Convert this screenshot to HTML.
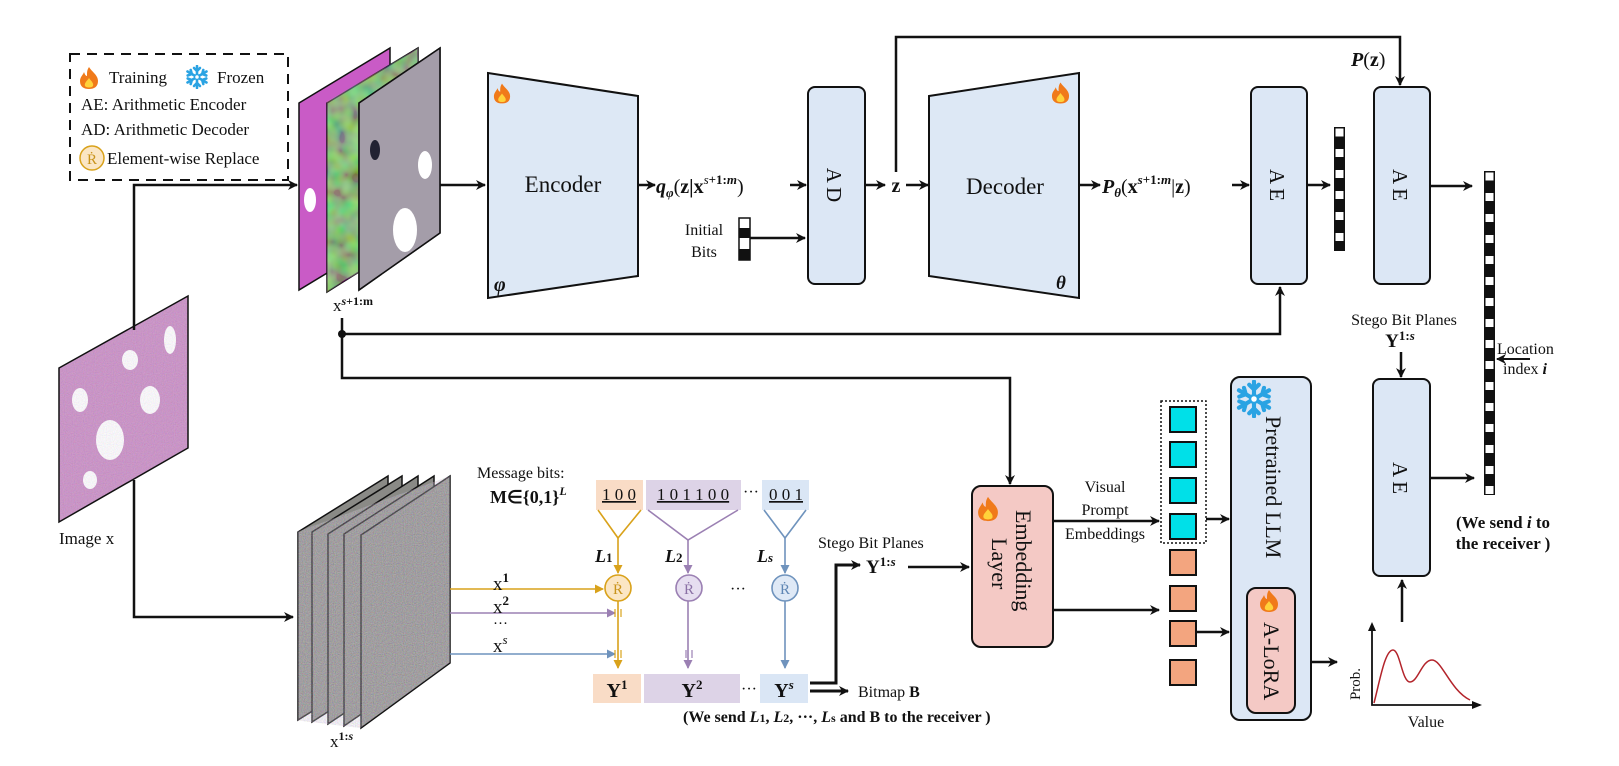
<!DOCTYPE html>
<html><head><meta charset="utf-8"><style>
html,body{margin:0;padding:0;background:#fff}
svg{display:block}
text{font-family:"Liberation Serif",serif;fill:#111}
</style></head><body>
<svg width="1619" height="766" viewBox="0 0 1619 766" xmlns="http://www.w3.org/2000/svg">
<defs>
<marker id="ah" markerWidth="10" markerHeight="10" refX="9" refY="5" orient="auto" markerUnits="userSpaceOnUse"><path d="M0,0 L10,5 L0,10 L3,5 z" fill="#111"/></marker>
<marker id="ahO" markerWidth="9" markerHeight="9" refX="8" refY="4.5" orient="auto" markerUnits="userSpaceOnUse"><path d="M0,0 L9,4.5 L0,9 z" fill="#d9a21b"/></marker>
<marker id="ahP" markerWidth="9" markerHeight="9" refX="8" refY="4.5" orient="auto" markerUnits="userSpaceOnUse"><path d="M0,0 L9,4.5 L0,9 z" fill="#9b80b3"/></marker>
<marker id="ahB" markerWidth="9" markerHeight="9" refX="8" refY="4.5" orient="auto" markerUnits="userSpaceOnUse"><path d="M0,0 L9,4.5 L0,9 z" fill="#6f93bd"/></marker>
<symbol id="fire" viewBox="0 0 20 24"><path d="M10,1 C13,6 19,9 19,15 C19,21 15,23 10,23 C5,23 1,21 1,15 C1,11 4,9 5,6 C6,9 7,10 8,10 C8,6 8,4 10,1z" fill="#f07a1a"/><path d="M10,12 C12,15 15,17 14,20 C13,22 7,22 6,20 C5,17 8,15 10,12z" fill="#ffd23a"/></symbol>
<symbol id="snow" viewBox="-12 -12 24 24"><g stroke="#2aa3e3" stroke-width="2.6" stroke-linecap="round" fill="none"><path d="M0,-11V11M-9.5,-5.5L9.5,5.5M-9.5,5.5L9.5,-5.5"/><path d="M-3,-9L0,-6L3,-9M-3,9L0,6L3,9M-9.3,-1.5L-5.2,-3L-6.3,-7M9.3,1.5L5.2,3L6.3,7M-9.3,1.5L-5.2,3L-6.3,7M9.3,-1.5L5.2,-3L6.3,-7"/></g><circle r="2.5" fill="#fff" stroke="#2aa3e3" stroke-width="1.5"/></symbol>
<filter id="noise" x="0" y="0" width="100%" height="100%"><feTurbulence type="fractalNoise" baseFrequency="0.9" numOctaves="1" seed="3"/><feColorMatrix type="matrix" values="1.4 0 0 0 -0.1  0 1.3 0 0 -0.1  0 0 1.5 0 -0.1  0 0 0 0 1"/></filter>
<filter id="blob" x="0" y="0" width="100%" height="100%"><feTurbulence type="fractalNoise" baseFrequency="0.06" numOctaves="2" seed="7"/><feColorMatrix type="matrix" values="2 0 0 0 -0.3  0 2 0 0 -0.5  0 0 2 0 -0.3  0 0 0 0 1"/></filter>
<clipPath id="cx"><polygon points="59,368 188,296 188,448 59,522"/></clipPath>
</defs>

<!-- legend -->
<rect x="70" y="54" width="218" height="126" fill="none" stroke="#111" stroke-width="2" stroke-dasharray="10,7"/>
<use href="#fire" x="79" y="66" width="20" height="24"/>
<text x="109" y="83" font-size="17">Training</text>
<use href="#snow" x="185" y="65" width="24" height="24"/>
<text x="217" y="83" font-size="17">Frozen</text>
<text x="81" y="110" font-size="17">AE: Arithmetic Encoder</text>
<text x="81" y="135" font-size="17">AD: Arithmetic Decoder</text>
<circle cx="92" cy="158" r="12" fill="#fbe6c4" stroke="#d9a21b" stroke-width="1.5"/>
<text x="92" y="164" font-size="15" text-anchor="middle" style="fill:#c9931b">Ṙ</text>
<text x="107" y="164" font-size="17">Element-wise Replace</text>

<!-- top stack -->
<g stroke="#111" stroke-width="1.5">
<polygon points="299,103 390,48 390,235 299,290" fill="#c95bc6"/>
<polygon points="327,103 418,48 418,235 327,292" fill="#5fbf48"/>
<rect x="327" y="48" width="91" height="244" filter="url(#blob)" opacity="0.35" stroke="none" clip-path="polygon(0 22%,100% 0,100% 77%,0 100%)"/>
<polygon points="359,103 440,48 440,233 359,290" fill="#8f9a8f"/>
</g>
<g opacity="0.55"><polygon points="359,103 440,48 440,233 359,290" fill="#b7a0c0"/></g>
<ellipse cx="405" cy="230" rx="12" ry="22" fill="#fff"/><ellipse cx="425" cy="165" rx="7" ry="14" fill="#fff"/><ellipse cx="375" cy="150" rx="5" ry="10" fill="#223"/><ellipse cx="310" cy="200" rx="6" ry="12" fill="#fff"/>
<polygon points="359,103 440,48 440,233 359,290" fill="none" stroke="#111" stroke-width="1.5"/>
<text x="333" y="311" font-size="17">x<tspan font-size="12" dy="-6" font-weight="bold" font-style="italic">s</tspan><tspan font-size="12" font-weight="bold">+1:m</tspan></text>

<!-- image x -->
<polygon points="59,368 188,296 188,448 59,522" fill="#c98cc4"/>
<g clip-path="url(#cx)" fill="#fff"><ellipse cx="110" cy="440" rx="14" ry="20"/><ellipse cx="150" cy="400" rx="10" ry="14"/><ellipse cx="80" cy="400" rx="8" ry="12"/><ellipse cx="170" cy="340" rx="6" ry="14"/><ellipse cx="130" cy="360" rx="8" ry="10"/><ellipse cx="90" cy="480" rx="7" ry="9"/></g>
<g clip-path="url(#cx)" fill="#5a3f8c" opacity="0.6"><rect x="59" y="296" width="129" height="226" filter="url(#noise)" opacity="0.3"/></g>
<polygon points="59,368 188,296 188,448 59,522" fill="none" stroke="#111" stroke-width="1.5"/>
<text x="59" y="544" font-size="17">Image x</text>

<!-- bottom stack -->
<g stroke="#111" stroke-width="1.5">
<polygon points="298,532 388,476 388,664 298,720" fill="#8a8a86"/>
<polygon points="312,532 402,476 402,664 312,722" fill="#8a8a86"/>
<polygon points="328,534 418,476 418,664 328,724" fill="#8a8a86"/>
<polygon points="344,534 434,476 434,664 344,726" fill="#8a8a86"/>
<polygon points="361,535 450,476 450,663 361,728" fill="#8a8a86"/>
</g>
<rect x="298" y="476" width="152" height="252" filter="url(#noise)" opacity="0.35" clip-path="polygon(0 22%,100% 0,100% 74%,41% 100%,0 97%)"/>
<text x="330" y="747" font-size="17">x<tspan font-size="12" dy="-7" font-weight="bold">1:</tspan><tspan font-size="12" font-style="italic" font-weight="bold">s</tspan></text>

<!-- image x connectors -->
<g fill="none" stroke="#111" stroke-width="2.5">
<polyline points="134,330 134,185 297,185" marker-end="url(#ah)"/>
<polyline points="134,480 134,617 293,617" marker-end="url(#ah)"/>
<line x1="440" y1="185" x2="485" y2="185" marker-end="url(#ah)"/>
<polyline points="342,318 342,378 1010,378 1010,484" marker-end="url(#ah)"/>
<polyline points="342,334 1280,334 1280,287" marker-end="url(#ah)"/>
</g>
<circle cx="342" cy="334" r="4" fill="#111"/>

<!-- encoder -->
<polygon points="488,73 638,96 638,276 488,298" fill="#dde8f5" stroke="#111" stroke-width="2"/>
<use href="#fire" x="493" y="82" width="18" height="23"/>
<text x="563" y="192" font-size="23" text-anchor="middle">Encoder</text>
<text x="494" y="291" font-size="20" font-weight="bold" font-style="italic">φ</text>
<line x1="638" y1="185" x2="655" y2="185" stroke="#111" stroke-width="2.5" marker-end="url(#ah)"/>
<text x="656" y="193" font-size="20" font-weight="bold"><tspan font-style="italic">q</tspan><tspan font-size="13" dy="4" font-style="italic">φ</tspan><tspan dy="-4" font-weight="normal">(</tspan>z|x<tspan font-size="13" dy="-9" font-weight="normal" font-style="italic">s</tspan><tspan font-size="13">+1:</tspan><tspan font-size="13" font-style="italic">m</tspan><tspan dy="9" font-weight="normal">)</tspan></text>
<line x1="790" y1="185" x2="806" y2="185" stroke="#111" stroke-width="2.5" marker-end="url(#ah)"/>
<text x="704" y="235" font-size="16" text-anchor="middle">Initial</text>
<text x="704" y="257" font-size="16" text-anchor="middle">Bits</text>
<rect x="739" y="218" width="11" height="42" fill="#fff" stroke="#111" stroke-width="1.5"/>
<rect x="739" y="228" width="11" height="10" fill="#111"/><rect x="739" y="249" width="11" height="11" fill="#111"/>
<line x1="750" y1="238" x2="805" y2="238" stroke="#111" stroke-width="2.5" marker-end="url(#ah)"/>

<!-- AD -->
<rect x="808" y="87" width="57" height="197" rx="7" fill="#dce7f5" stroke="#111" stroke-width="2"/>
<text transform="translate(827,185) rotate(90)" font-size="21" text-anchor="middle">A D</text>
<line x1="865" y1="185" x2="885" y2="185" stroke="#111" stroke-width="2.5" marker-end="url(#ah)"/>
<text x="896" y="192" font-size="20" font-weight="bold" text-anchor="middle">z</text>
<line x1="906" y1="185" x2="928" y2="185" stroke="#111" stroke-width="2.5" marker-end="url(#ah)"/>
<polyline points="896,172 896,37 1400,37 1400,85" fill="none" stroke="#111" stroke-width="2.5" marker-end="url(#ah)"/>
<text x="1351" y="66" font-size="20" font-weight="bold"><tspan font-style="italic">P</tspan><tspan font-weight="normal">(</tspan>z<tspan font-weight="normal">)</tspan></text>

<!-- decoder -->
<polygon points="929,96 1079,73 1079,298 929,276" fill="#dde8f5" stroke="#111" stroke-width="2"/>
<use href="#fire" x="1051" y="81" width="19" height="24"/>
<text x="1005" y="194" font-size="23" text-anchor="middle">Decoder</text>
<text x="1056" y="289" font-size="19" font-weight="bold" font-style="italic">θ</text>
<line x1="1079" y1="185" x2="1100" y2="185" stroke="#111" stroke-width="2.5" marker-end="url(#ah)"/>
<text x="1102" y="193" font-size="20" font-weight="bold"><tspan font-style="italic">P</tspan><tspan font-size="13" dy="4" font-style="italic">θ</tspan><tspan dy="-4" font-weight="normal">(</tspan>x<tspan font-size="13" dy="-9" font-style="italic">s</tspan><tspan font-size="13">+1:</tspan><tspan font-size="13" font-style="italic">m</tspan><tspan dy="9" font-weight="normal">|</tspan>z<tspan font-weight="normal">)</tspan></text>
<line x1="1232" y1="185" x2="1249" y2="185" stroke="#111" stroke-width="2.5" marker-end="url(#ah)"/>

<!-- AE1, AE2 -->
<rect x="1251" y="87" width="56" height="197" rx="7" fill="#dce7f5" stroke="#111" stroke-width="2"/>
<text transform="translate(1270,185) rotate(90)" font-size="21" text-anchor="middle">A E</text>
<line x1="1307" y1="185" x2="1330" y2="185" stroke="#111" stroke-width="2.5" marker-end="url(#ah)"/>
<rect x="1334" y="127" width="11" height="124" fill="#111"/>
<g fill="#fff"><rect x="1335.5" y="128.5" width="8" height="8"/><rect x="1335.5" y="149" width="8" height="8"/><rect x="1335.5" y="170" width="8" height="8"/><rect x="1335.5" y="191" width="8" height="8"/><rect x="1335.5" y="212" width="8" height="8"/><rect x="1335.5" y="233" width="8" height="8"/></g>
<rect x="1374" y="87" width="56" height="197" rx="7" fill="#dce7f5" stroke="#111" stroke-width="2"/>
<text transform="translate(1393,185) rotate(90)" font-size="21" text-anchor="middle">A E</text>
<line x1="1430" y1="186" x2="1472" y2="186" stroke="#111" stroke-width="2.5" marker-end="url(#ah)"/>

<!-- tall bit column -->
<rect x="1484" y="171" width="11" height="324" fill="#111"/>
<g fill="#fff">
<rect x="1485.5" y="172.5" width="8" height="8"/><rect x="1485.5" y="193" width="8" height="8"/><rect x="1485.5" y="214" width="8" height="8"/><rect x="1485.5" y="235" width="8" height="8"/><rect x="1485.5" y="256" width="8" height="8"/><rect x="1485.5" y="277" width="8" height="8"/><rect x="1485.5" y="298" width="8" height="8"/><rect x="1485.5" y="319" width="8" height="8"/><rect x="1485.5" y="340" width="8" height="8"/><rect x="1485.5" y="361" width="8" height="8"/><rect x="1485.5" y="382" width="8" height="8"/><rect x="1485.5" y="403" width="8" height="8"/><rect x="1485.5" y="424" width="8" height="8"/><rect x="1485.5" y="445" width="8" height="8"/><rect x="1485.5" y="466" width="8" height="8"/><rect x="1485.5" y="486" width="8" height="8"/></g>
<text x="1497" y="354" font-size="16">Location</text>
<text x="1503" y="374" font-size="16">index <tspan font-weight="bold" font-style="italic">i</tspan></text>
<line x1="1530" y1="359" x2="1497" y2="359" stroke="#111" stroke-width="2" marker-end="url(#ah)"/>

<text x="1404" y="325" font-size="16" text-anchor="middle">Stego Bit Planes</text>
<text x="1400" y="347" font-size="19" font-weight="bold" text-anchor="middle">Y<tspan font-size="13" dy="-7">1:</tspan><tspan font-size="13" font-style="italic">s</tspan></text>
<line x1="1401" y1="352" x2="1401" y2="377" stroke="#111" stroke-width="2.5" marker-end="url(#ah)"/>

<!-- AE3 -->
<rect x="1373" y="379" width="57" height="197" rx="7" fill="#dce7f5" stroke="#111" stroke-width="2"/>
<text transform="translate(1393,478) rotate(90)" font-size="21" text-anchor="middle">A E</text>
<line x1="1430" y1="478" x2="1474" y2="478" stroke="#111" stroke-width="2.5" marker-end="url(#ah)"/>
<text x="1503" y="528" font-size="17" font-weight="bold" text-anchor="middle">(We send <tspan font-style="italic">i</tspan>  to</text>
<text x="1503" y="549" font-size="17" font-weight="bold" text-anchor="middle">the receiver )</text>
<line x1="1402" y1="622" x2="1402" y2="580" stroke="#111" stroke-width="2.5" marker-end="url(#ah)"/>

<!-- chart -->
<polyline points="1372,625 1372,705 1480,705" fill="none" stroke="#111" stroke-width="1.8"/>
<path d="M1368,631 L1372,622 L1376,631z M1472,701 L1482,705 L1472,709z" fill="#111"/>
<path d="M1374,703 C1380,680 1385,650 1393,650 C1400,650 1402,682 1410,682 C1418,682 1422,660 1432,660 C1442,660 1450,690 1470,700" fill="none" stroke="#b3242b" stroke-width="1.5"/>
<text transform="translate(1360,684) rotate(-90)" font-size="15" text-anchor="middle">Prob.</text>
<text x="1426" y="727" font-size="16" text-anchor="middle">Value</text>

<!-- LLM -->
<rect x="1231" y="377" width="80" height="343" rx="9" fill="#dce7f5" stroke="#111" stroke-width="2"/>
<use href="#snow" x="1235" y="380" width="38" height="38"/>
<text transform="translate(1266,416) rotate(90)" font-size="22">Pretrained LLM</text>
<rect x="1247" y="588" width="48" height="125" rx="9" fill="#f4c9c5" stroke="#111" stroke-width="2"/>
<use href="#fire" x="1259" y="588" width="20" height="26"/>
<text transform="translate(1264,622) rotate(90)" font-size="22">A-LoRA</text>
<line x1="1311" y1="662" x2="1337" y2="662" stroke="#111" stroke-width="2.5" marker-end="url(#ah)"/>

<!-- embeddings -->
<rect x="1161" y="401" width="45" height="142" fill="none" stroke="#111" stroke-width="1.5" stroke-dasharray="2,2"/>
<g fill="#00e0e8" stroke="#111" stroke-width="2">
<rect x="1170" y="407" width="26" height="25"/><rect x="1170" y="442" width="26" height="25"/><rect x="1170" y="478" width="26" height="25"/><rect x="1170" y="514" width="26" height="25"/></g>
<g fill="#f3a57f" stroke="#111" stroke-width="2">
<rect x="1170" y="550" width="26" height="25"/><rect x="1170" y="586" width="26" height="25"/><rect x="1170" y="621" width="26" height="25"/><rect x="1170" y="660" width="26" height="25"/></g>
<line x1="1206" y1="519" x2="1229" y2="519" stroke="#111" stroke-width="2.5" marker-end="url(#ah)"/>
<line x1="1197" y1="632" x2="1229" y2="632" stroke="#111" stroke-width="2.5" marker-end="url(#ah)"/>

<!-- embedding layer -->
<rect x="972" y="486" width="81" height="161" rx="9" fill="#f4c9c5" stroke="#111" stroke-width="2"/>
<use href="#fire" x="977" y="495" width="22" height="28"/>
<text transform="translate(1016,510) rotate(90)" font-size="22">Embedding</text>
<text transform="translate(992,538) rotate(90)" font-size="22">Layer</text>
<text x="1105" y="492" font-size="16" text-anchor="middle">Visual</text>
<text x="1105" y="515" font-size="16" text-anchor="middle">Prompt</text>
<text x="1105" y="539" font-size="16" text-anchor="middle">Embeddings</text>
<line x1="1053" y1="521" x2="1159" y2="521" stroke="#111" stroke-width="2.5" marker-end="url(#ah)"/>
<line x1="1053" y1="610" x2="1159" y2="610" stroke="#111" stroke-width="2.5" marker-end="url(#ah)"/>

<!-- message bits -->
<text x="477" y="478" font-size="16">Message bits:</text>
<text x="490" y="503" font-size="18" font-weight="bold">M∈{0,1}<tspan font-size="12" dy="-8" font-style="italic">L</tspan></text>
<rect x="596" y="480" width="47" height="30" fill="#f9dcc6"/>
<rect x="646" y="480" width="95" height="30" fill="#ddd3e7"/>
<rect x="762" y="480" width="47" height="30" fill="#dae6f5"/>
<text x="619" y="500" font-size="17" text-anchor="middle" text-decoration="underline">1 0 0</text>
<text x="693" y="500" font-size="17" text-anchor="middle" text-decoration="underline">1 0 1 1 0 0</text>
<text x="751" y="497" font-size="16" text-anchor="middle">···</text>
<text x="786" y="500" font-size="17" text-anchor="middle" text-decoration="underline">0 0 1</text>
<g fill="none" stroke-width="1.6">
<polyline points="598,510 618,538 641,510" stroke="#d9a21b"/>
<line x1="618" y1="538" x2="618" y2="573" stroke="#d9a21b" marker-end="url(#ahO)"/>
<polyline points="648,510 688,540 738,510" stroke="#9b80b3"/>
<line x1="688" y1="540" x2="688" y2="573" stroke="#9b80b3" marker-end="url(#ahP)"/>
<polyline points="764,510 785,538 806,510" stroke="#6f93bd"/>
<line x1="785" y1="538" x2="785" y2="573" stroke="#6f93bd" marker-end="url(#ahB)"/>
<line x1="450" y1="589" x2="603" y2="589" stroke="#d9a21b" marker-end="url(#ahO)"/>
<polyline points="450,613 615,613 M621,613 652,613 677,598" stroke="#9b80b3" marker-end="url(#ahP)"/>
<polyline points="450,654 615,654 M621,654 686,654 M692,654 698,654 773,598" stroke="#6f93bd" marker-end="url(#ahB)"/>
<line x1="618" y1="601" x2="618" y2="668" stroke="#d9a21b" marker-end="url(#ahO)"/>
<line x1="688" y1="601" x2="688" y2="668" stroke="#9b80b3" marker-end="url(#ahP)"/>
<line x1="785" y1="601" x2="785" y2="668" stroke="#6f93bd" marker-end="url(#ahB)"/>
</g>
<g stroke-width="1.2"><line x1="615" y1="609" x2="615" y2="617" stroke="#d9a21b"/><line x1="621" y1="609" x2="621" y2="617" stroke="#d9a21b"/><line x1="615" y1="650" x2="615" y2="658" stroke="#d9a21b"/><line x1="621" y1="650" x2="621" y2="658" stroke="#d9a21b"/><line x1="686" y1="650" x2="686" y2="658" stroke="#9b80b3"/><line x1="692" y1="650" x2="692" y2="658" stroke="#9b80b3"/></g>
<circle cx="618" cy="588" r="13" fill="#fbe6c4" stroke="#d9a21b" stroke-width="1.6"/>
<circle cx="689" cy="588" r="13" fill="#e6def0" stroke="#9b80b3" stroke-width="1.6"/>
<circle cx="785" cy="588" r="13" fill="#dfe9f6" stroke="#6f93bd" stroke-width="1.6"/>
<text x="618" y="594" font-size="15" text-anchor="middle" style="fill:#c9931b">Ṙ</text>
<text x="689" y="594" font-size="15" text-anchor="middle" style="fill:#8a70a5">Ṙ</text>
<text x="785" y="594" font-size="15" text-anchor="middle" style="fill:#5f86b4">Ṙ</text>
<text x="595" y="562" font-size="18" font-weight="bold" font-style="italic">L<tspan font-size="13" font-style="normal">1</tspan></text>
<text x="665" y="562" font-size="18" font-weight="bold" font-style="italic">L<tspan font-size="13" font-style="normal">2</tspan></text>
<text x="757" y="562" font-size="18" font-weight="bold" font-style="italic">L<tspan font-size="13">s</tspan></text>
<text x="738" y="594" font-size="16" text-anchor="middle">···</text>
<text x="493" y="590" font-size="19">x<tspan font-size="13" dy="-8" font-weight="bold">1</tspan></text>
<text x="493" y="613" font-size="19">x<tspan font-size="13" dy="-8" font-weight="bold">2</tspan></text>
<text x="493" y="628" font-size="15">···</text>
<text x="493" y="652" font-size="19">x<tspan font-size="13" dy="-8" font-style="italic">s</tspan></text>
<rect x="593" y="674" width="48" height="29" fill="#f9dcc6"/>
<rect x="644" y="674" width="96" height="29" fill="#ddd3e7"/>
<rect x="760" y="674" width="48" height="29" fill="#dae6f5"/>
<text x="617" y="697" font-size="20" font-weight="bold" text-anchor="middle">Y<tspan font-size="13" dy="-8">1</tspan></text>
<text x="692" y="697" font-size="20" font-weight="bold" text-anchor="middle">Y<tspan font-size="13" dy="-8">2</tspan></text>
<text x="749" y="694" font-size="16" text-anchor="middle">···</text>
<text x="784" y="697" font-size="20" font-weight="bold" text-anchor="middle">Y<tspan font-size="13" dy="-8" font-style="italic">s</tspan></text>

<polyline points="810,683 836,683 836,565 860,565" fill="none" stroke="#111" stroke-width="3" marker-end="url(#ah)"/>
<line x1="810" y1="691" x2="848" y2="691" stroke="#111" stroke-width="3" marker-end="url(#ah)"/>
<text x="858" y="697" font-size="16">Bitmap <tspan font-weight="bold">B</tspan></text>
<text x="818" y="548" font-size="16">Stego Bit Planes</text>
<text x="866" y="573" font-size="19" font-weight="bold">Y<tspan font-size="13" dy="-7">1:</tspan><tspan font-size="13" font-style="italic">s</tspan></text>
<line x1="908" y1="567" x2="969" y2="567" stroke="#111" stroke-width="2.5" marker-end="url(#ah)"/>
<text x="683" y="722" font-size="16" font-weight="bold">(We send <tspan font-style="italic">L</tspan><tspan font-size="12">1</tspan>, <tspan font-style="italic">L</tspan><tspan font-size="12">2</tspan>,  ···, <tspan font-style="italic">L</tspan><tspan font-size="12">s</tspan> and B to the receiver )</text>
</svg>
</body></html>
